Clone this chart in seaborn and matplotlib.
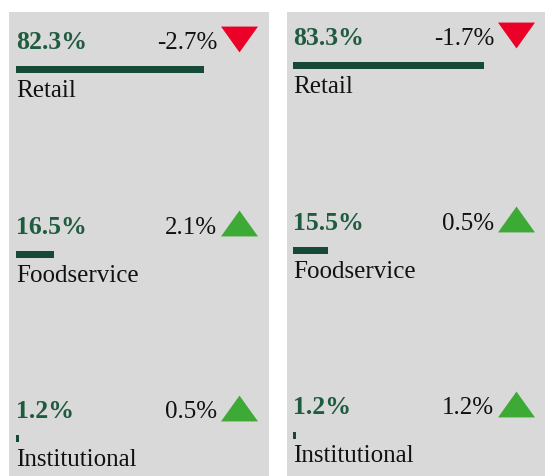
import numpy as np
import pandas as pd
import seaborn as sns
import matplotlib.pyplot as plt

sns.set_style('white')
plt.rcParams['font.family'] = ['Liberation Serif', 'DejaVu Serif']

channels = ['Retail', 'Foodservice', 'Institutional']
share_left = [82.3, 16.5, 1.2]
change_left = [-2.7, 2.1, 0.5]
share_right = [83.3, 15.5, 1.2]
change_right = [-1.7, 0.5, 1.2]

bg = '#d9d9d9'
bar_col = '#174a36'
pct_col = '#1f5b3f'
red = '#eb0028'
green = '#3daa35'

W, H = 545, 476
fig = plt.figure(figsize=(W / 100, H / 100), dpi=100)

px_per_pct = 2.29
row_px = 184.5


def panel(left_px, bar_px, shift_px, share, change):
    ax = fig.add_axes([left_px / W, 0, 260 / W, 464 / H])
    ax.set_facecolor(bg)
    df = pd.DataFrame({'channel': channels, 'share': share})
    sns.barplot(data=df, x='share', y='channel', color=bar_col, width=7 / row_px,
                saturation=1, linewidth=0, ax=ax, orient='h')
    off = bar_px - left_px
    ax.set_xlim(-off / px_per_pct, (260 - off) / px_per_pct)
    c0 = 69.5 - shift_px
    ax.set_ylim((476 - c0) / row_px, (12 - c0) / row_px)
    for i, (s, c) in enumerate(zip(share, change)):
        ax.text(0, i - 20.5 / row_px, f'{s:.1f}%', color=pct_col, fontsize=18.5,
                fontweight='bold', va='baseline', ha='left')
        ax.text(0, i + 27.5 / row_px, channels[i], color='#111111', fontsize=18,
                va='baseline', ha='left')
        ax.text(87.8, i - 20.5 / row_px, f'{c:.1f}%', color='#111111', fontsize=18,
                va='baseline', ha='right')
        if c < 0:
            verts = [(-1, 0.7), (1, 0.7), (0, -0.7)]
            col = red
        else:
            verts = [(-1, -0.7), (1, -0.7), (0, 0.7)]
            col = green
        ax.scatter([97.3], [i - 31 / row_px], marker=verts, s=26.6 ** 2, color=col,
                   linewidths=0, zorder=3)
    ax.set_xlabel('')
    ax.set_ylabel('')
    ax.set_xticks([])
    ax.set_yticks([])
    for sp in ax.spines.values():
        sp.set_visible(False)


panel(9, 16, 0, share_left, change_left)
panel(287, 293, 3.5, share_right, change_right)

fig.savefig('out.png', dpi=100, facecolor='white')
